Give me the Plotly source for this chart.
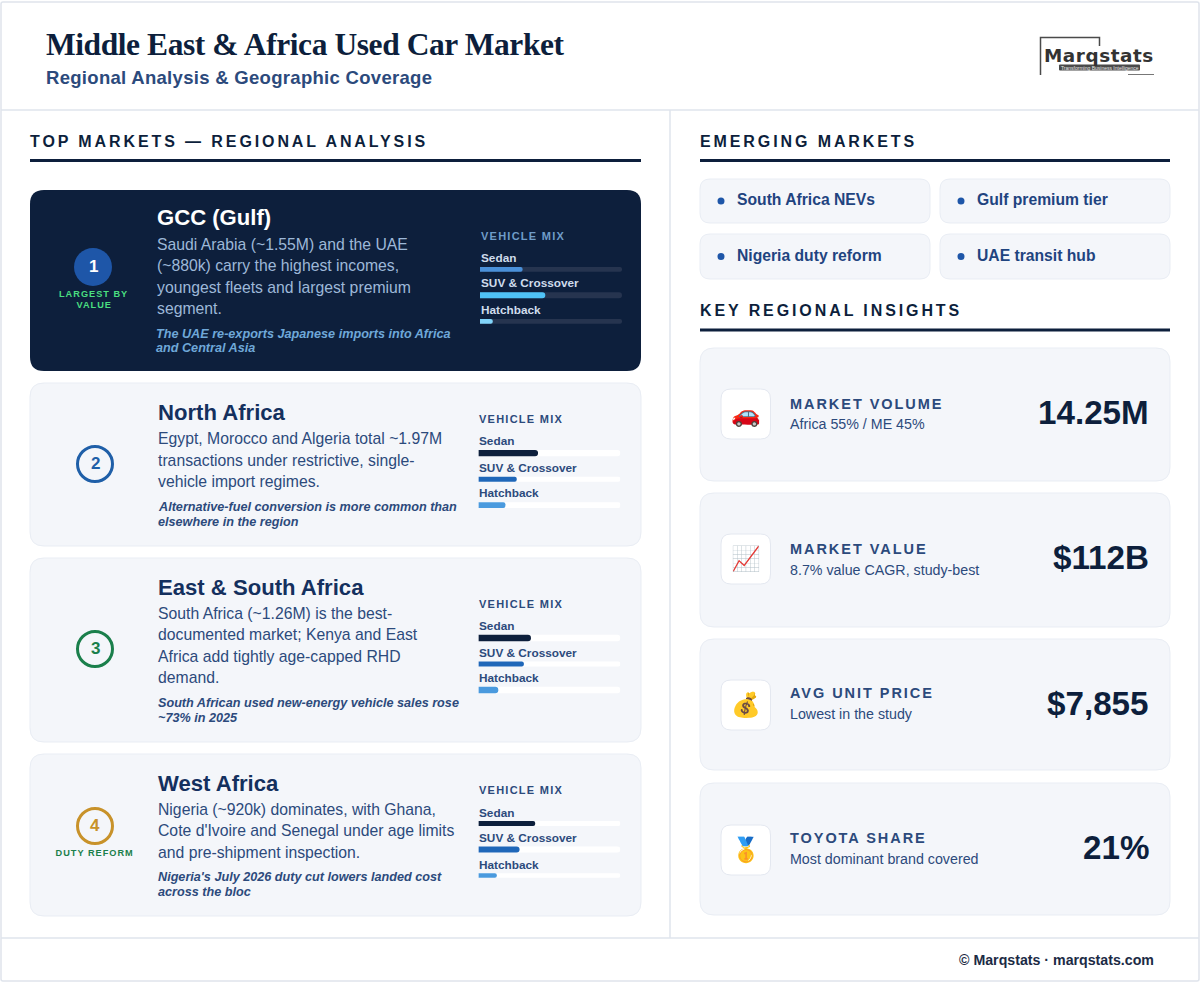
import json
import plotly.graph_objects as go

SANS = 'Liberation Sans'
SERIF = 'Liberation Serif'
NAVY = '#0d1f3c'
BLUE_TXT = '#2c4a7c'
CARD = '#f4f6fa'
EDGE = '#e9edf4'

# ---- data ----
MIX_LABELS = ['Sedan', 'SUV & Crossover', 'Hatchback']
GCC_MIX = [30, 46, 9]
NORTH_MIX = [42, 27, 19]
EAST_MIX = [37, 32, 14]
WEST_MIX = [40, 29, 13]
TRACK_MAX = [100, 100, 100]

REGION_NAMES = ['GCC (Gulf)', 'North Africa', 'East & South Africa', 'West Africa']
REGION_BODY = [
    ['Saudi Arabia (~1.55M) and the UAE', '(~880k) carry the highest incomes,',
     'youngest fleets and largest premium', 'segment.'],
    ['Egypt, Morocco and Algeria total ~1.97M', 'transactions under restrictive, single-',
     'vehicle import regimes.'],
    ['South Africa (~1.26M) is the best-', 'documented market; Kenya and East',
     'Africa add tightly age-capped RHD', 'demand.'],
    ['Nigeria (~920k) dominates, with Ghana,', "Cote d'Ivoire and Senegal under age limits",
     'and pre-shipment inspection.'],
]
REGION_NOTE = [
    ['The UAE re-exports Japanese imports into Africa', 'and Central Asia'],
    ['Alternative-fuel conversion is more common than', 'elsewhere in the region'],
    ['South African used new-energy vehicle sales rose', '~73% in 2025'],
    ["Nigeria's July 2026 duty cut lowers landed cost", 'across the bloc'],
]
EMERGING = ['South Africa NEVs', 'Gulf premium tier', 'Nigeria duty reform', 'UAE transit hub']
KPI_NAMES = ['MARKET VOLUME', 'MARKET VALUE', 'AVG UNIT PRICE', 'TOYOTA SHARE']
KPI_NOTES = ['Africa 55% / ME 45%', '8.7% value CAGR, study-best', 'Lowest in the study',
             'Most dominant brand covered']
KPI_VALUES = ['14.25M', '$112B', '$7,855', '21%']
KPI_ICONS = ['\U0001F697', '\U0001F4C8', '\U0001F4B0', '\U0001F947']

shapes = []
annotations = []
tracking = {}


def rrect(x0, y0, x1, y1, r, fill, line=None, lw=1):
    path = (f'M {x0+r} {y0} L {x1-r} {y0} Q {x1} {y0} {x1} {y0+r} L {x1} {y1-r} Q {x1} {y1} {x1-r} {y1} '
            f'L {x0+r} {y1} Q {x0} {y1} {x0} {y1-r} L {x0} {y0+r} Q {x0} {y0} {x0+r} {y0} Z')
    shapes.append(dict(type='path', path=path, xref='x', yref='y', fillcolor=fill, layer='below',
                       line=dict(color=line if line else fill, width=lw if line else 0)))


def rule(x0, y0, x1, y1, color, w=1):
    shapes.append(dict(type='line', x0=x0, y0=y0, x1=x1, y1=y1, xref='x', yref='y', layer='below',
                       line=dict(color=color, width=w)))


def txt(x, y, s, size, color, bold=False, italic=False, font=SANS, anchor='left', spacing=None):
    annotations.append(dict(x=x, y=y, xref='x', yref='y', text=s, showarrow=False, xanchor=anchor,
                            yanchor='middle', align=anchor, borderpad=0, borderwidth=0,
                            font=dict(family=font, size=size, color=color, weight=700 if bold else 400,
                                      style='italic' if italic else 'normal')))
    if spacing is not None:
        tracking[s] = spacing


def circle(cx, cy, r, fill, line, w):
    shapes.append(dict(type='circle', x0=cx-r, y0=cy-r, x1=cx+r, y1=cy+r, xref='x', yref='y',
                       fillcolor=fill, layer='below', line=dict(color=line, width=w)))


# ---- frame and header ----
rrect(1, 2, 1199, 981, 2, 'white', '#dfe4ec', 1.5)
rule(1, 110, 1199, 110, '#dfe4ec', 1.5)
rule(670, 110, 670, 938, '#dfe4ec', 1.5)
rule(1, 938, 1199, 938, '#dfe4ec', 1.5)

txt(46, 44.5, 'Middle East & Africa Used Car Market', 31.5, NAVY, bold=True, font=SERIF, spacing=-0.43)
txt(46, 77.5, 'Regional Analysis & Geographic Coverage', 18.5, BLUE_TXT, bold=True, spacing=0.3)

# logo
shapes.append(dict(type='path', path='M 1040.5 75 L 1040.5 37.5 L 1099.5 37.5 L 1099.5 46', xref='x', yref='y',
                   layer='below', line=dict(color='#4a4a4a', width=1.5)))
txt(1044, 55, 'Marqstats', 18.4, '#333333', bold=True, font='DejaVu Sans', spacing=0.55)
rrect(1059, 64.5, 1140, 70.5, 1, '#4a4a4a')
txt(1099.5, 67.6, 'Transforming Business Intelligence', 5, '#e8e8e8', anchor='center')
rule(1128, 74.5, 1154, 74.5, '#777777', 1)

# ---- section headings ----
txt(30, 141, 'TOP MARKETS — REGIONAL ANALYSIS', 16, NAVY, bold=True, spacing=2.9)
rule(30, 160.5, 641, 160.5, NAVY, 3)
txt(700, 141, 'EMERGING MARKETS', 16, NAVY, bold=True, spacing=2.9)
rule(700, 160.5, 1170, 160.5, NAVY, 3)
txt(700, 310, 'KEY REGIONAL INSIGHTS', 16, NAVY, bold=True, spacing=2.9)
rule(700, 330, 1170, 330, NAVY, 3)

# ---- region cards ----
card_y = [(190, 371), (383, 546), (558, 742), (754, 916)]
badge_y = [267, 464, 649, 826]
badge_col = ['#1e56a8', '#1f5fa8', '#1a7f4b', '#c8922a']
badge_lbl = [['LARGEST BY', 'VALUE'], [], [], ['DUTY REFORM']]
name_y = [217.5, 412, 587, 783]
body_y = [244, 438.5, 613, 809]
note_y = [333.5, 507, 703, 877]
mix_head_y = [236, 419, 604, 790]
row_y = [[257.5, 283, 309.5], [440.5, 467.5, 492.5], [625.5, 652.5, 677.5], [812.5, 837.5, 864.5]]
bar_y = [269.3, 453.2, 638, 823.5]
bar_px = [[4.7, 6, 4.7], [6.3, 5, 5.7], [6.3, 5, 6.3], [5, 6, 4.7]]

for i, (y0, y1) in enumerate(card_y):
    dark = i == 0
    tx = 156.5 if dark else 158
    rrect(30, y0, 641, y1, 14, NAVY if dark else CARD, None if dark else EDGE)
    if dark:
        circle(93, badge_y[i], 19, badge_col[i], badge_col[i], 0)
    else:
        circle(95, badge_y[i], 17.5, CARD, badge_col[i], 3)
    txt(93 if dark else 95, badge_y[i]-0.5, str(i+1), 17, 'white' if dark else badge_col[i], bold=True, anchor='center')
    for k, lab in enumerate(badge_lbl[i]):
        txt(93.5 if dark else 94.5, (294 if dark else 853) + k*11, lab, 9.2, '#4ade80' if dark else '#1a7f4b', bold=True,
            anchor='center', spacing=1.0)
    txt(tx, name_y[i], REGION_NAMES[i], 22.1, 'white' if dark else '#14305e', bold=True)
    for k, line in enumerate(REGION_BODY[i]):
        txt(tx, body_y[i] + k*21.5, line, 15.75, '#9db8d8' if dark else BLUE_TXT)
    for k, line in enumerate(REGION_NOTE[i]):
        txt(tx - 0.5, note_y[i] + k*14.8, line, 12.65, '#6fa8d8' if dark else BLUE_TXT, bold=True, italic=True)
    mx = 481 if dark else 479
    txt(mx, mix_head_y[i], 'VEHICLE MIX', 11, '#6f9cc8' if dark else BLUE_TXT, bold=True, spacing=1.25)
    for k, lab in enumerate(MIX_LABELS):
        txt(mx, row_y[i][k], lab, 11.8, '#cfdcec' if dark else BLUE_TXT, bold=True)

# ---- chips ----
chip_box = [(700, 179, 930, 223), (940, 179, 1170, 223), (700, 234, 930, 279), (940, 234, 1170, 279)]
for box, lab in zip(chip_box, EMERGING):
    rrect(box[0], box[1], box[2], box[3], 10, CARD, EDGE)
    cy = (box[1] + box[3]) / 2
    circle(box[0]+21, cy, 3.5, '#1e56a8', '#1e56a8', 0)
    txt(box[0]+36.5, cy-1.2, lab, 15.7, '#1f4480', bold=True)

# ---- KPI cards ----
kpi_box = [(348, 481), (493, 627), (639, 770), (783, 915)]
icon_top = [389, 534, 680, 825]
name_ys = [403.5, 549, 692.5, 838]
note_ys = [424, 570, 713.5, 859]
value_ys = [412, 557.5, 703, 847.7]
for k, (y0, y1) in enumerate(kpi_box):
    top = icon_top[k]
    rrect(700, y0, 1170, y1, 14, CARD, EDGE)
    rrect(721, top, 770.5, top+50, 10, 'white', '#e4e8f0')
    txt(745.5, top+25, KPI_ICONS[k], 24, '#333333', anchor='center')
    txt(790, name_ys[k], KPI_NAMES[k], 14.5, BLUE_TXT, bold=True, spacing=1.95)
    txt(790, note_ys[k], KPI_NOTES[k], 14.25, BLUE_TXT)
    txt(1149.3, value_ys[k], KPI_VALUES[k], 33.2, NAVY, bold=True, anchor='right')

txt(1154, 960, '© Marqstats · marqstats.com', 14.2, '#1c2b45', bold=True, anchor='right')

# ---- vehicle mix bars ----
mixes = [GCC_MIX, NORTH_MIX, EAST_MIX, WEST_MIX]
fill_cols = [['#4a90d9', '#4fc3f7', '#81d4fa']] + [[NAVY, '#1f67b9', '#4a9ade']] * 3
ROW_PX = 26
fig = go.Figure()
for i, mix in enumerate(mixes):
    # track and fill sit on separate axes, overlay mode only rounds the longest bar of an axis
    ax_track = 2 * i + 2
    ax_fill = 2 * i + 3
    x0 = 480 if i == 0 else 478.4
    top = bar_y[i] - ROW_PX / 2
    widths = [p / ROW_PX for p in bar_px[i]]
    fig.add_trace(go.Bar(x=TRACK_MAX, y=MIX_LABELS, orientation='h', width=widths,
                         xaxis=f'x{ax_track}', yaxis=f'y{ax_track}',
                         marker=dict(color='#26344f' if i == 0 else 'white', cornerradius=3, line=dict(width=0)),
                         hoverinfo='skip', showlegend=False))
    fig.add_trace(go.Bar(x=mix, y=MIX_LABELS, orientation='h', width=widths,
                         xaxis=f'x{ax_fill}', yaxis=f'y{ax_fill}',
                         marker=dict(color=fill_cols[i], cornerradius=3, line=dict(width=0)), showlegend=False))
    for ax in (ax_track, ax_fill):
        fig.update_layout({
            f'xaxis{ax}': dict(domain=[x0/1200, (x0+142)/1200], range=[0, 100], visible=False, fixedrange=True,
                               anchor=f'y{ax}'),
            f'yaxis{ax}': dict(domain=[1-(top+78)/984, 1-top/984], categoryorder='array', categoryarray=MIX_LABELS,
                               autorange='reversed', visible=False, fixedrange=True, anchor=f'x{ax}'),
        })

fig.update_layout(
    width=1200, height=984, margin=dict(l=0, r=0, t=0, b=0), autosize=False,
    paper_bgcolor='white', plot_bgcolor='rgba(0,0,0,0)', barmode='overlay', showlegend=False,
    xaxis=dict(range=[0, 1200], domain=[0, 1], visible=False, fixedrange=True),
    yaxis=dict(range=[984, 0], domain=[0, 1], visible=False, fixedrange=True),
    shapes=shapes, annotations=annotations,
)

# plotly has no letter-spacing option, set it on the svg text afterwards
post = ("document.body.style.margin='0';document.body.style.overflow='hidden';var sp=" + json.dumps(tracking) + ";"
        "document.querySelectorAll('.annotation-text').forEach(function(t){var s=sp[t.textContent];"
        "if(s!==undefined){t.style.letterSpacing=s+'px';}});")
fig.write_html("out.html", post_script=post, config=dict(displayModeBar=False))
